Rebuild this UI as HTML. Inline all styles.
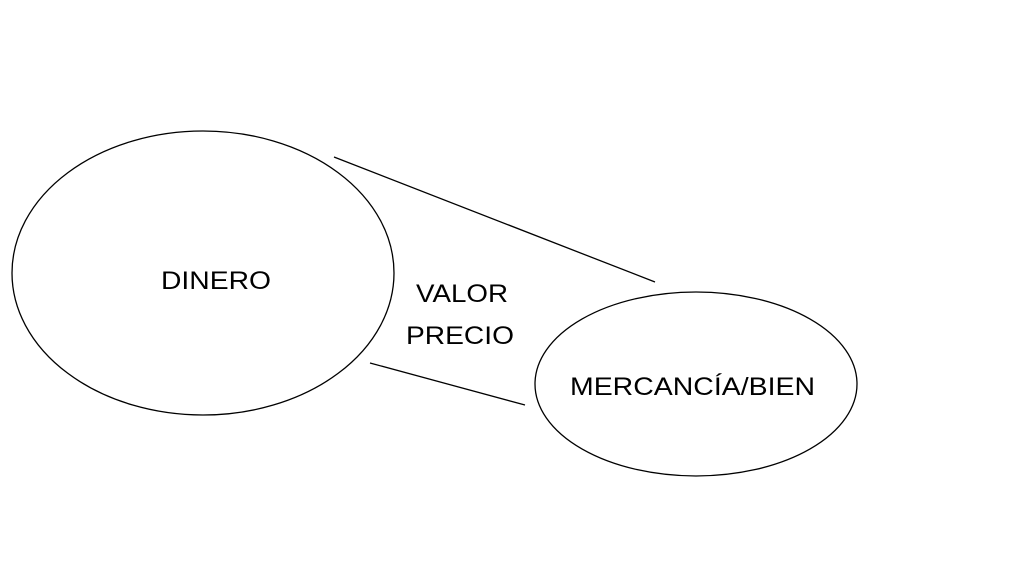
<!DOCTYPE html>
<html><head><meta charset="utf-8"><style>body{margin:0;background:#fff}svg{display:block}</style></head>
<body>
<svg width="1024" height="564" xmlns="http://www.w3.org/2000/svg" font-family="Liberation Sans, sans-serif" font-size="25" fill="none" stroke="#000" stroke-width="1.3">
<ellipse cx="203" cy="273" rx="191" ry="142"/>
<ellipse cx="696" cy="384" rx="161" ry="92"/>
<line x1="334" y1="157" x2="655" y2="282"/>
<line x1="370" y1="363" x2="525" y2="405"/>
<g fill="#000" stroke="none">
<text x="161" y="289" textLength="110" lengthAdjust="spacingAndGlyphs">DINERO</text>
<text x="416" y="302" textLength="92" lengthAdjust="spacingAndGlyphs">VALOR</text>
<text x="406" y="344" textLength="108" lengthAdjust="spacingAndGlyphs">PRECIO</text>
<text x="570" y="395" textLength="245" lengthAdjust="spacingAndGlyphs">MERCANCÍA/BIEN</text>
</g>
</svg>
</body></html>
